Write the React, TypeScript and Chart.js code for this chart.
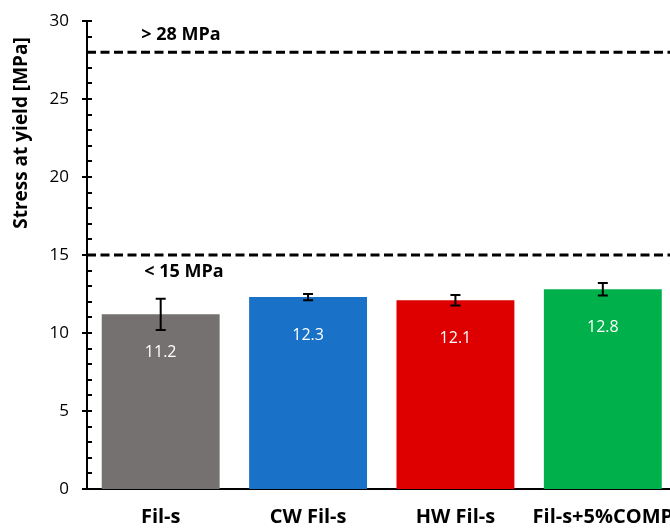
import React, { useEffect, useRef } from "react";
import { Chart, registerables } from "chart.js";

Chart.register(...registerables);

const categories = ["Fil-s", "CW Fil-s", "HW Fil-s", "Fil-s+5%COMP"];
const stressValues = [11.2, 12.3, 12.1, 12.8];
const stressErrors = [1.0, 0.2, 0.33, 0.4];
const barColors = ["#767171", "#1A72C8", "#DE0000", "#00B04B"];
const upperLimit = 28;
const lowerLimit = 15;
const upperLabel = "> 28 MPa";
const lowerLabel = "< 15 MPa";
const yTitle = "Stress at yield [MPa]";
const yMin = 0;
const yMax = 30;
const yMajorStep = 5;
const yMinorStep = 1;

const FONT = "'Open Sans', 'Noto Sans', sans-serif";

const overlayPlugin = {
  id: "overlay",
  afterDraw(chart: any) {
    const ctx = chart.ctx;
    const area = chart.chartArea;
    const y = chart.scales.y;
    ctx.save();

    // dashed limit lines
    ctx.strokeStyle = "#000";
    ctx.lineWidth = 3;
    ctx.setLineDash([9, 4.5]);
    [upperLimit, lowerLimit].forEach((v) => {
      const py = y.getPixelForValue(v);
      ctx.beginPath();
      ctx.moveTo(area.left, py);
      ctx.lineTo(chart.width, py);
      ctx.stroke();
    });
    ctx.setLineDash([]);

    // limit labels
    ctx.fillStyle = "#000";
    ctx.font = `bold 18px ${FONT}`;
    ctx.textAlign = "center";
    ctx.textBaseline = "middle";
    ctx.fillText(upperLabel, 181, y.getPixelForValue(upperLimit) - 17);
    ctx.fillText(lowerLabel, 184, y.getPixelForValue(lowerLimit) + 17);

    // error bars and value labels
    const meta = chart.getDatasetMeta(0);
    meta.data.forEach((bar: any, i: number) => {
      const v = stressValues[i];
      const e = stressErrors[i];
      const cx = bar.x;
      const yTop = y.getPixelForValue(v + e);
      const yBot = y.getPixelForValue(v - e);
      ctx.strokeStyle = "#000";
      ctx.lineWidth = 2;
      ctx.beginPath();
      ctx.moveTo(cx, yTop);
      ctx.lineTo(cx, yBot);
      ctx.moveTo(cx - 5, yTop);
      ctx.lineTo(cx + 5, yTop);
      ctx.moveTo(cx - 5, yBot);
      ctx.lineTo(cx + 5, yBot);
      ctx.stroke();

      ctx.fillStyle = "#fff";
      ctx.font = `16px ${FONT}`;
      ctx.textAlign = "center";
      ctx.textBaseline = "middle";
      ctx.fillText(v.toFixed(1), cx, y.getPixelForValue(v) + 38);
    });

    // y axis tick marks
    ctx.strokeStyle = "#000";
    ctx.lineWidth = 2;
    for (let v = yMin; v <= yMax; v += yMinorStep) {
      const py = Math.round(y.getPixelForValue(v));
      const major = v % yMajorStep === 0;
      ctx.beginPath();
      ctx.moveTo(area.left - (major ? 5 : 0), py);
      ctx.lineTo(area.left + 5, py);
      ctx.stroke();
    }

    // y axis title
    ctx.save();
    ctx.translate(22, 133);
    ctx.rotate(-Math.PI / 2);
    ctx.fillStyle = "#000";
    ctx.font = `bold 19px ${FONT}`;
    ctx.textAlign = "center";
    ctx.textBaseline = "middle";
    ctx.fillText(yTitle, 0, 0);
    ctx.restore();

    ctx.restore();
  },
};

export default function App() {
  const canvasRef = useRef<HTMLCanvasElement | null>(null);

  useEffect(() => {
    if (!canvasRef.current) return;
    const chart = new Chart(canvasRef.current, {
      type: "bar",
      data: {
        labels: categories,
        datasets: [
          {
            data: stressValues,
            backgroundColor: barColors,
            borderWidth: 0,
            categoryPercentage: 0.8,
            barPercentage: 1,
          },
        ],
      },
      options: {
        animation: false,
        responsive: false,
        devicePixelRatio: 1,
        layout: { padding: { left: 0, right: 23.5, top: 21, bottom: 0 } },
        plugins: {
          legend: { display: false },
          tooltip: { enabled: false },
          title: { display: false },
        },
        scales: {
          x: {
            grid: { display: false, drawTicks: false },
            border: { display: true, color: "#000", width: 2 },
            ticks: {
              color: "#000",
              font: { family: FONT, size: 20, weight: "bold" },
              padding: 16,
              maxRotation: 0,
              autoSkip: false,
            },
            afterFit: (s: any) => {
              s.height = 41;
              s.paddingLeft = 0;
              s.paddingRight = 0;
            },
          },
          y: {
            min: yMin,
            max: yMax,
            grid: { display: false, drawTicks: false },
            border: { display: true, color: "#000", width: 2 },
            ticks: {
              stepSize: yMajorStep,
              color: "#000",
              font: { family: FONT, size: 17 },
              padding: 18,
            },
            afterFit: (s: any) => {
              s.width = 87;
              s.paddingTop = 0;
              s.paddingBottom = 0;
            },
          },
        },
      },
      plugins: [overlayPlugin],
    });
    return () => chart.destroy();
  }, []);

  return (
    <div
      style={{
        position: "absolute",
        left: 0,
        top: 0,
        width: 670,
        height: 530,
        overflow: "hidden",
        background: "#fff",
      }}
    >
      <canvas ref={canvasRef} width={700} height={530} style={{ display: "block" }} />
    </div>
  );
}
